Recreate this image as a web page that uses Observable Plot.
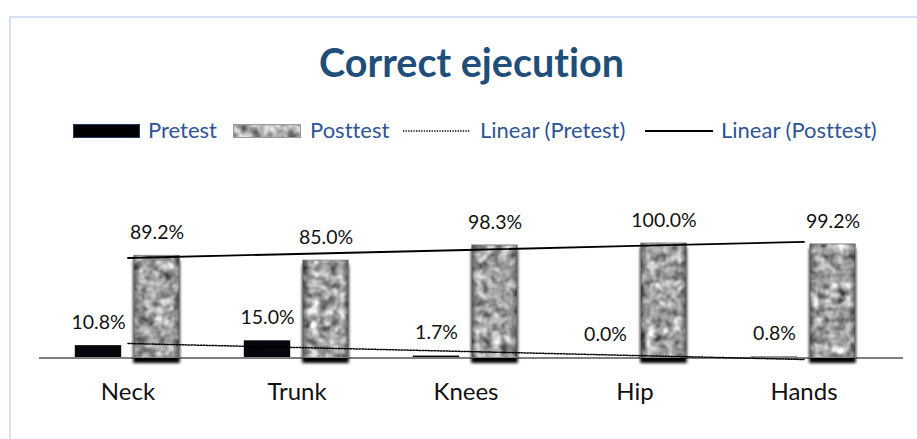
<!DOCTYPE html>
<html>
<head>
<meta charset="utf-8">
<script src="https://cdn.jsdelivr.net/npm/d3@7"></script>
<script src="https://cdn.jsdelivr.net/npm/@observablehq/plot@0.6"></script>
<style>
  body { margin: 0; background: #fff; }
  #wrap { position: relative; width: 917px; height: 439px; overflow: hidden; background: #fff; font-family: Lato, "Open Sans", sans-serif; font-variant-ligatures: none; font-feature-settings: "liga" 0, "clig" 0; }
  #frame { position: absolute; left: 9px; top: 16px; width: 1000px; height: 1000px; border: 2px solid #D6E2F4; box-sizing: border-box; }
  #title { position: absolute; left: 0; width: 943px; text-align: center; top: 42px; font-size: 39.5px; font-weight: 700; color: #1F4E79; line-height: 1; white-space: nowrap; }
  .lgtext { position: absolute; top: 119px; font-size: 22px; color: #2E5597; line-height: 1; white-space: nowrap; }
  .lgsw { position: absolute; top: 124px; }
  #chart { position: absolute; left: 0; top: 180px; }
  #chart svg text { font-variant-ligatures: none; }
</style>
</head>
<body>
<div id="wrap">
  <div id="frame"></div>
  <div id="title"></div>
  <div id="legend"></div>
  <div id="chart"></div>
</div>
<script>
// ---- data ----
const title = "Correct ejecution";
const categories = ["Neck", "Trunk", "Knees", "Hip", "Hands"];
const pretest = [10.8, 15.0, 1.7, 0.0, 0.8];
const posttest = [89.2, 85.0, 98.3, 100.0, 99.2];
const legendLabels = ["Pretest", "Posttest", "Linear (Pretest)", "Linear (Posttest)"];

// ---- derived tables ----
const preRows = categories.map((c, i) => ({category: c, value: pretest[i]}));
const postRows = categories.map((c, i) => ({category: c, value: posttest[i]}));
function trend(values) {
  const xs = values.map((_, i) => i + 1);
  const mx = d3.mean(xs), my = d3.mean(values);
  const slope = d3.sum(xs, (x, i) => (x - mx) * (values[i] - my)) / d3.sum(xs, x => (x - mx) ** 2);
  const intercept = my - slope * mx;
  return categories.map((c, i) => ({category: c, value: intercept + slope * (i + 1)}));
}
const preTrend = trend(pretest);
const postTrend = trend(posttest);
const fmt = v => d3.format(".1f")(v) + "%";

// ---- title ----
document.getElementById("title").textContent = title;

// ---- texture defs ----
const noiseDefs = (id) => `
  <filter id="${id}-f" x="0" y="0" width="1" height="1" filterUnits="objectBoundingBox" color-interpolation-filters="sRGB">
    <feTurbulence type="fractalNoise" baseFrequency="0.11" numOctaves="2" seed="11" stitchTiles="stitch" result="n"/>
    <feColorMatrix in="n" type="matrix" values="0.33 0.33 0.33 0 0  0.33 0.33 0.33 0 0  0.33 0.33 0.33 0 0  0 0 0 0 1" result="g"/>
    <feGaussianBlur in="g" stdDeviation="0.7" result="b"/>
    <feComponentTransfer in="b">
      <feFuncR type="linear" slope="1.7" intercept="-0.2"/>
      <feFuncG type="linear" slope="1.7" intercept="-0.2"/>
      <feFuncB type="linear" slope="1.7" intercept="-0.2"/>
    </feComponentTransfer>
  </filter>
  <pattern id="${id}" patternUnits="userSpaceOnUse" x="0" y="0" width="917" height="439">
    <rect width="917" height="439" fill="#999" filter="url(#${id}-f)"/>
  </pattern>
  <linearGradient id="${id}-edge" x1="0" x2="1" y1="0" y2="0">
    <stop offset="0" stop-color="#000" stop-opacity="0.4"/>
    <stop offset="0.14" stop-color="#000" stop-opacity="0"/>
    <stop offset="0.86" stop-color="#000" stop-opacity="0"/>
    <stop offset="1" stop-color="#000" stop-opacity="0.4"/>
  </linearGradient>`;

// ---- legend ----
const legendLayout = [
  {sw: 73, w: 67, tx: 148, kind: "solidbar"},
  {sw: 233, w: 68, tx: 310, kind: "texture"},
  {sw: 403, w: 67, tx: 480, kind: "dotted"},
  {sw: 645, w: 68, tx: 721, kind: "line"}
];
const legend = document.getElementById("legend");
legendLabels.forEach((label, i) => {
  const L = legendLayout[i];
  const sw = document.createElementNS("http://www.w3.org/2000/svg", "svg");
  sw.setAttribute("class", "lgsw");
  sw.setAttribute("width", L.w);
  sw.setAttribute("height", 14);
  sw.style.left = L.sw + "px";
  if (L.kind === "solidbar") {
    sw.innerHTML = `<rect x="0.5" y="0.5" width="${L.w - 1}" height="13" fill="#000" stroke="#1F3864" stroke-width="1"/>`;
  } else if (L.kind === "texture") {
    sw.innerHTML = `<defs>${noiseDefs("lgtex")}</defs><rect x="0.5" y="0.5" width="${L.w - 1}" height="13" fill="url(#lgtex)" stroke="#9a9a9a" stroke-width="1"/>`;
  } else if (L.kind === "dotted") {
    sw.innerHTML = `<line x1="0" x2="${L.w}" y1="7" y2="7" stroke="#000" stroke-width="1.3" stroke-dasharray="1.3 1.3"/>`;
  } else {
    sw.innerHTML = `<line x1="0" x2="${L.w}" y1="7" y2="7" stroke="#000" stroke-width="1.8"/>`;
  }
  legend.appendChild(sw);
  const t = document.createElement("div");
  t.className = "lgtext";
  t.style.left = L.tx + "px";
  t.textContent = label;
  legend.appendChild(t);
});

// ---- chart ----
const plot = Plot.plot({
  width: 917,
  height: 259,
  marginLeft: 39,
  marginRight: 14,
  marginTop: 63,
  marginBottom: 81.5,
  style: {fontFamily: "Lato, 'Open Sans', sans-serif", fontSize: "24px", background: "transparent", color: "#111", overflow: "visible"},
  x: {domain: categories, range: [41.2, 889.3], padding: 0, label: null, tickSize: 0, tickPadding: 25},
  y: {domain: [0, 100], axis: null},
  marks: [
    Plot.barY(preRows, {x: "category", y: "value", dx: -29.5, insetLeft: 61.3, insetRight: 61.3, fill: "#05050c"}),
    Plot.ruleY([0], {stroke: "#7F7F7F", strokeWidth: 2}),
    Plot.barY(postRows, {x: "category", y: "value", dx: 29, insetLeft: 61.8, insetRight: 61.8, fill: "url(#granite)", stroke: "#8a8a8a", strokeWidth: 1}),
    Plot.barY(postRows, {x: "category", y: "value", dx: 29, insetLeft: 61.8, insetRight: 61.8, fill: "url(#granite-edge)"}),
    Plot.line(preTrend, {x: "category", y: "value", stroke: "#000", strokeWidth: 1.5, strokeDasharray: "1.5 1.5"}),
    Plot.line(postTrend, {x: "category", y: "value", stroke: "#000", strokeWidth: 1.8}),
    Plot.text(preRows, {x: "category", y: "value", text: d => fmt(d.value), dx: -29.5, dy: -23, fontSize: 19.5, fill: "#111"}),
    Plot.text(postRows, {x: "category", y: "value", text: d => fmt(d.value), dx: 29, dy: -23, fontSize: 19.5, fill: "#111"})
  ]
});
const defs = document.createElementNS("http://www.w3.org/2000/svg", "defs");
defs.innerHTML = noiseDefs("granite") + `
  <filter id="barshadow" x="-20%" y="-5%" width="140%" height="120%">
    <feDropShadow dx="0" dy="5" stdDeviation="1.6" flood-color="#000" flood-opacity="1"/>
  </filter>`;
plot.insertBefore(defs, plot.firstChild);
const barGroups = plot.querySelectorAll('g[aria-label="bar"]');
if (barGroups.length > 1) barGroups[1].setAttribute("filter", "url(#barshadow)");
document.getElementById("chart").appendChild(plot);
</script>
</body>
</html>
